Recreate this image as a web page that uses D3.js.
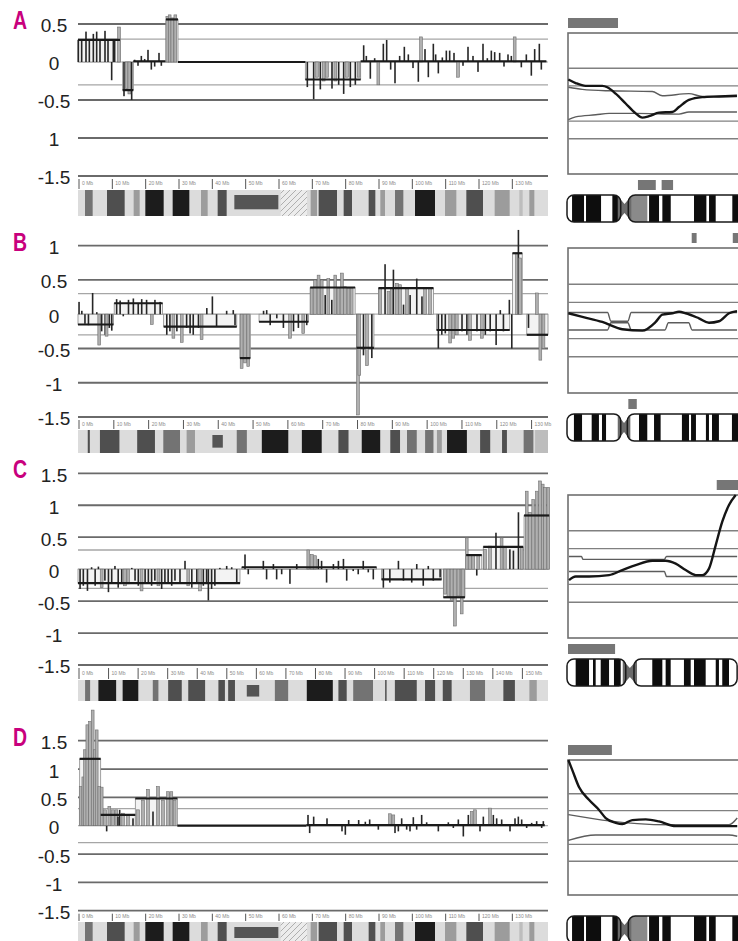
<!DOCTYPE html>
<html lang="en">
<head>
<meta charset="UTF-8">
<title>Array CGH profiles A-D</title>
<script src="https://d3js.org/d3.v7.min.js"></script>
<style>
  body { margin: 0; background: #fff; }
  svg { display: block; background: #fff; }
  .tick-label { font-family: "Liberation Sans", Arial, sans-serif; font-size: 19px; fill: #222; }
  .panel-label { font-family: "Liberation Sans", Arial, sans-serif; font-weight: bold; font-size: 25px; fill: #c8007d; }
  .mb { font-family: "Liberation Sans", Arial, sans-serif; font-size: 5px; fill: #8a8a8a; }
</style>
</head>
<body>
<svg width="738" height="941"></svg>
<script>
// ---- y axis ticks ----
const ticksA = [0.5, 0, -0.5, -1, -1.5];
const tickTextA = ["0.5", "0", "-0.5", "1", "-1.5"];
const ticksB = [1, 0.5, 0, -0.5, -1, -1.5];
const tickTextB = ["1", "0.5", "0", "-0.5", "-1", "-1.5"];
const ticksCD = [1.5, 1, 0.5, 0, -0.5, -1, -1.5];
const tickTextCD = ["1.5", "1", "0.5", "0", "-0.5", "-1", "-1.5"];
const thresholds = [0.3, -0.3];
const rightGrid = [0.5, 0.25, -0.25, -0.5];

// ---- Mb ticks of the band strips ----
const mbTicks9 = [0, 10, 20, 30, 40, 50, 60, 70, 80, 90, 100, 110, 120, 130];
const mbTicks12 = [0, 10, 20, 30, 40, 50, 60, 70, 80, 90, 100, 110, 120, 130];
const mbTicks7 = [0, 10, 20, 30, 40, 50, 60, 70, 80, 90, 100, 110, 120, 130, 140, 150];

// ---- segments [start Mb, end Mb, mean log2 ratio] ----
const segmentsA = [[0, 12.6, 0.29], [13.4, 16.6, -0.37], [16.6, 26.2, 0.01], [26.4, 30, 0.56],
  [30, 68.2, 0], [68.2, 84.8, -0.23], [84.8, 140.5, 0.01]];
const segmentsB = [[0, 10.2, -0.15], [10.4, 24.3, 0.16], [24.6, 45.6, -0.18], [46.5, 49.5, -0.64],
  [52, 66.2, -0.11], [66.7, 79.6, 0.39], [80, 85, -0.49], [86.3, 102.1, 0.38], [103, 124, -0.23],
  [124.8, 127.6, 0.89], [128.9, 135, -0.3]];
const segmentsC = [[0, 54.8, -0.22], [55.4, 101, 0.03], [102.7, 123, -0.16], [123.6, 130.9, -0.44],
  [131.3, 136.6, 0.22], [137.1, 150.6, 0.35], [150.9, 159.4, 0.84]];
const segmentsD = [[0.5, 6.8, 1.18], [6.8, 17.2, 0.19], [17.2, 29.8, 0.48], [29.8, 68.5, 0], [68.5, 140, 0.01]];

// ---- clones [position Mb, log2 ratio, flagged 0/1] ----
const clonesA = [
  [0.1,0.29,0],[1.1,0.3,0],[2.4,0.4,0],[3.4,0.29,0],[4.6,0.37,0],[5.6,0.4,0],[6.6,0.29,0],[8.1,0.41,0],
  [9.0,0.29,0],[10.1,-0.24,0],[10.6,0.28,0],[11.0,0.29,0],[12.3,0.46,1],
  [13.8,-0.45,0],[14.6,-0.35,1],[15.4,-0.42,1],[16.1,-0.5,0],
  [17.0,0.03,0],[18.0,-0.05,0],[19.0,0.08,0],[20.0,0.04,0],[21.0,0.16,0],[22.0,-0.1,0],[23.0,-0.06,0],
  [24.3,0.12,0],[25.0,-0.05,0],
  [26.8,0.6,1],[27.5,0.62,1],[28.3,0.58,1],[29.2,0.62,1],
  [68.8,-0.33,0],[70.7,-0.49,0],[71.7,-0.2,1],[72.7,-0.36,0],[73.7,-0.25,1],[74.7,-0.2,1],[76.2,-0.35,0],
  [77.2,-0.25,1],[78.2,-0.3,0],[79.7,-0.42,0],[80.7,-0.2,1],[81.7,-0.33,0],[83.2,-0.3,0],[84.2,-0.2,1],
  [85.7,0.22,0],[86.5,0.08,0],[87.7,-0.22,0],[89.0,0.05,0],[90.1,-0.3,1],[91.6,0.24,0],[92.6,0.29,0],
  [93.8,-0.1,0],[95.1,-0.28,0],[96.5,0.08,0],[97.9,0.2,0],[99.1,0.1,0],[100.5,-0.08,0],[102.1,-0.26,0],
  [102.9,0.33,1],[104.1,0.17,0],[105.1,-0.2,0],[106.6,0.24,0],[107.3,0.1,0],[108.1,-0.15,0],[109.3,0.06,0],
  [110.5,0.15,0],[111.5,0.15,0],[112.8,0.12,0],[114.0,-0.2,1],[115.5,-0.05,0],[117.0,0.2,0],[118.5,0.08,0],
  [120.0,-0.13,0],[121.5,0.24,0],[122.8,0.05,0],[124.0,0.15,0],[125.0,0.13,0],[126.5,0.12,0],[127.8,-0.06,0],
  [129.0,0.1,0],[130.0,0.08,0],[131.0,0.33,1],[133.0,-0.07,0],[134.5,0.1,0],[136.0,-0.18,0],[137.0,0.17,0],
  [138.4,0.24,0],[139.0,-0.1,0]
];
const clonesB = [
  [0.3,0.18,0],[1.1,0.05,0],[2.0,-0.14,0],[3.0,-0.16,0],[4.2,0.31,0],[5.4,0.03,0],[6.1,-0.45,1],[6.8,-0.25,0],
  [7.8,-0.3,0],[8.2,-0.32,1],[9.0,-0.2,0],[9.7,-0.24,0],
  [11.1,0.22,0],[12.1,0.2,0],[13.0,-0.03,0],[14.5,0.21,0],[15.9,0.23,0],[17.3,0.16,0],[18.3,0.22,0],
  [19.7,0.21,0],[21.2,-0.15,1],[22.1,0.21,0],[23.6,0.18,0],
  [25.5,-0.3,0],[26.4,-0.25,0],[27.4,-0.35,1],[28.4,-0.25,0],[29.8,-0.41,1],[31.2,-0.2,0],[32.2,-0.28,0],
  [33.1,-0.3,0],[34.6,-0.2,0],[35.5,-0.37,1],[37.0,0.09,0],[38.6,0.26,0],[39.8,-0.18,0],[42.7,0.05,0],
  [44.6,0.06,0],[45.1,-0.16,0],
  [47.0,-0.79,1],[48.0,-0.71,1],[48.9,-0.76,1],
  [53.3,0.05,0],[54.2,0.06,0],[55.2,-0.16,0],[57.1,-0.06,0],[59.0,-0.2,0],[60.9,-0.35,1],[61.9,-0.25,0],
  [63.3,-0.2,0],[64.7,-0.28,1],[65.7,-0.16,0],
  [67.1,0.38,1],[68.1,0.5,1],[69.1,0.57,1],[70.0,0.5,1],[71.0,0.28,0],[71.9,0.52,1],[72.9,0.21,0],
  [73.9,0.57,1],[74.8,0.38,1],[75.8,0.6,1],[76.7,0.4,1],[77.7,0.38,1],[78.6,0.38,1],
  [80.4,-1.47,1],[80.8,-0.89,1],[82.0,-0.6,0],[83.0,-0.75,1],[84.4,-0.64,0],
  [86.8,0.38,1],[88.2,0.73,0],[89.2,0.33,1],[90.1,0.38,1],[90.6,0.65,0],[91.6,0.45,1],[92.5,0.43,1],
  [93.5,0.14,0],[94.5,0.38,1],[95.4,0.28,0],[97.3,0.52,0],[98.8,0.26,0],[99.7,0.38,1],[101.1,0.38,1],
  [103.5,-0.5,0],[104.5,-0.3,0],[105.5,-0.28,0],[106.9,-0.42,1],[107.8,-0.35,1],[108.8,-0.3,1],
  [110.3,-0.25,0],[111.7,-0.3,0],[112.6,-0.38,1],[114.6,-0.25,0],[116.0,-0.35,1],[117.0,-0.3,0],
  [118.4,-0.25,0],[120.1,-0.45,0],[121.3,0.06,0],[122.2,-0.25,0],[123.9,0.21,0],
  [124.6,-0.5,0],[126.1,0.89,1],[126.5,1.23,0],[127.0,0.82,1],
  [129.4,-0.2,0],[131.8,0.31,1],[132.8,-0.67,1],[133.7,-0.5,1]
];
const clonesC = [
  [0.7,-0.31,0],[1.8,-0.26,0],[3.2,-0.34,0],[4.6,0.03,0],[5.8,-0.26,0],[6.9,0.04,0],[8.0,-0.29,1],
  [9.1,-0.18,0],[10.3,-0.36,0],[11.4,-0.23,0],[12.5,0.05,0],[13.6,-0.29,0],[14.8,-0.21,0],[15.9,-0.26,1],
  [17.0,-0.23,1],[18.2,0.02,0],[19.3,-0.18,0],[20.4,-0.26,0],[21.5,-0.34,1],[22.7,-0.23,0],[23.8,-0.21,0],
  [24.9,-0.26,0],[26.0,-0.18,0],[27.2,-0.26,1],[28.3,-0.31,0],[29.4,-0.23,0],[30.5,-0.21,0],[31.7,-0.26,0],
  [32.8,-0.18,0],[34.5,-0.23,0],[36.2,0.13,0],[37.3,-0.26,1],[38.5,-0.29,0],[40.2,-0.21,0],[41.3,-0.34,1],
  [42.4,-0.26,0],[43.5,-0.21,0],[44.1,-0.49,0],[45.2,-0.31,0],[46.3,-0.26,0],[48.0,0.02,0],[50.3,0.05,0],
  [52.0,0.03,0],[53.7,-0.21,0],
  [56.5,0.23,0],[57.6,-0.08,0],[62.7,0.13,0],[63.8,-0.16,0],[66.1,0.08,0],[67.2,-0.16,0],[68.9,-0.08,0],
  [71.7,-0.23,0],[74.0,0.08,0],[77.9,0.3,1],[79.1,0.23,1],[80.2,0.21,1],[81.3,0.16,0],[82.4,0.13,0],
  [84.1,-0.21,0],[86.4,0.08,0],[88.1,0.13,0],[89.8,0.16,0],[90.9,-0.18,0],[93.1,-0.03,0],[94.8,-0.08,0],
  [96.5,0.13,0],[98.2,-0.05,0],[99.9,-0.16,0],
  [103.3,-0.29,0],[105.5,-0.21,0],[108.4,0.13,0],[110.1,-0.18,0],[112.9,-0.21,0],[114.6,0.08,0],
  [116.8,-0.26,0],[118.5,0.05,0],[120.2,-0.18,0],[122.5,-0.13,0],
  [124.2,-0.39,1],[125.3,-0.44,1],[126.4,-0.49,1],[127.5,-0.89,1],[128.7,-0.42,1],[129.8,-0.7,1],[130.3,-0.44,1],
  [131.5,0.49,1],[132.6,0.23,1],[133.7,0.23,1],[134.9,-0.1,0],[135.4,0.23,1],
  [137.7,0.31,1],[139.4,0.36,1],[141.4,0.57,0],[143.3,0.49,1],[144.4,0.34,1],[146.1,0.31,0],[147.3,0.29,0],
  [149.0,0.89,0],[150.1,0.34,1],
  [151.8,1.22,1],[152.9,0.89,1],[154.0,1.09,1],[155.2,1.22,1],[156.3,1.38,1],[157.2,1.33,1],[158.0,1.28,1],[159.1,1.28,1]
];
const clonesD = [
  [0.8,0.69,1],[1.6,0.86,1],[2.1,1.34,1],[2.8,1.78,1],[3.6,1.84,1],[4.4,2.04,1],[5.1,1.34,1],[5.6,1.69,1],[6.4,0.69,1],
  [7.1,0.68,1],[8.1,0.28,1],[8.6,-0.1,0],[9.4,0.34,1],[10.5,0.28,1],[11.5,0.28,1],[12.0,0.16,0],[12.5,0.28,0],
  [13.5,0.22,1],[15.0,0.19,1],[16.5,0.13,0],
  [18.0,0.28,1],[19.5,0.45,1],[21.0,0.64,1],[22.5,0.25,0],[24.0,0.69,1],[25.5,0.45,1],[27.0,0.6,1],[28.0,0.6,1],[29.0,0.45,1],
  [69.0,0.19,0],[69.5,-0.13,0],[70.7,0.16,0],[74.7,0.13,0],[79.2,-0.1,0],[80.2,-0.16,0],[81.2,0.1,0],[84.2,0.1,0],
  [86.2,0.07,0],[87.5,0.11,0],[90.1,-0.07,0],[93.6,0.21,1],[94.6,0.19,1],[95.1,-0.13,0],[96.1,-0.1,0],[97.1,0.13,0],
  [98.6,-0.07,0],[99.6,-0.1,0],[100.6,0.15,0],[101.6,-0.07,0],[103.1,0.19,0],[104.6,0.06,0],[108.1,-0.1,0],
  [111.1,0.06,0],[112.6,-0.04,0],[114.1,0.11,0],[115.6,-0.19,0],[117.1,0.19,0],[118.1,0.25,1],[119.1,0.28,1],
  [120.6,-0.1,0],[121.6,0.16,0],[123.6,0.31,1],[124.6,0.19,0],[125.6,0.13,0],[127.1,0.11,0],[129.6,-0.1,0],
  [131.1,0.13,0],[132.1,0.16,0],[133.1,0.11,0],[134.6,-0.04,0],[136.1,0.05,0],[137.6,0.08,0],[139.1,-0.04,0],[139.6,0.08,0]
];

// ---- cytoband strips below the profiles [start Mb, end Mb, stain] ----
const stripChr9 = [[2.1,4.4,"g50"],[8.7,14,"g75"],[16.7,18.5,"g25"],[20.2,25.7,"g100"],[28.4,33.4,"g100"],
  [36.9,38.9,"g25"],[41.9,44.6,"g75"],[46.9,60.1,"acen"],[60.8,68.7,"gvar"],[69.8,71.7,"g25"],[72.2,77.7,"g75"],
  [79.7,82.2,"g75"],[87.2,89.2,"g75"],[90.7,92.1,"g25"],[95.1,97.6,"g50"],[101.1,107.1,"g100"],[110.1,113.5,"g25"],
  [116.5,121.5,"g75"],[125,129.5,"g25"],[132.4,133.4,"g10"],[135.4,136.9,"g25"]];
const stripChr12 = [[2.8,3.4,"g75"],[6.3,11.9,"g75"],[17,22.1,"g75"],[24.5,29.3,"g50"],[31.2,33.6,"g25"],
  [38.6,41.6,"acen"],[45.6,48.5,"g50"],[52.8,60.4,"g100"],[64.3,70,"g100"],[74.8,77.7,"g75"],[81.5,86.8,"g100"],
  [89.7,92.5,"g75"],[94.5,97.3,"g50"],[99.7,102.1,"g50"],[103.1,104.5,"g25"],[106,111.7,"g100"],[115.5,118.4,"g75"],
  [121.8,123.2,"g75"],[128,130.8,"g50"],[131.3,135,"g10"]];
const stripChr7 = [[2.4,4.1,"g50"],[6.9,12.9,"g100"],[15.1,20.4,"g100"],[25.3,27.2,"g50"],[30.5,35.1,"g75"],
  [37.3,43,"g75"],[47.5,49.7,"g75"],[50.8,53.1,"g75"],[57.1,61.3,"acen"],[66.6,71.1,"g50"],[77.4,86.2,"g100"],
  [88.1,90.9,"g75"],[93.1,99.8,"g50"],[103.9,104.4,"g75"],[107.2,114.6,"g75"],[117.4,120.8,"g75"],[123.4,126.4,"g75"],
  [132.6,137.7,"g50"],[143.9,147.8,"g75"],[152.7,155.2,"g25"]];

// ---- ideograms on the right [start Mb, end Mb, stain] and centromeres ----
const ideoChr9 = [[3.8,12.8,"gpos"],[14.3,25.6,"gpos"],[34.1,40.4,"gpos"],[46.1,60.4,"gvar"],[61.7,69.2,"gpos"],
  [71.7,78,"gpos"],[95.5,104.8,"gpos"],[106.8,111.8,"gpos"],[124.3,133,"gpos"]];
const ideoChr12 = [[4.1,8.9,"gpos"],[14.6,18.9,"gpos"],[20.7,23.1,"gpos"],[42.6,47.5,"gpos"],[51.5,55.4,"gpos"],
  [68,72.2,"gpos"],[73.4,76.3,"gpos"],[82.2,84,"gpos"],[85.8,89.9,"gpos"],[97.6,104,"gpos"]];
const ideoChr7 = [[8.1,20.6,"gpos"],[24.3,26.8,"gpos"],[31.5,39.3,"gpos"],[43.9,50.2,"gpos"],[79.7,89.1,"gpos"],
  [92.2,96.9,"gpos"],[109.3,115.6,"gpos"],[118.7,129.6,"gpos"],[139,142,"gpos"],[145.1,151.4,"gpos"]];
const cenChr9 = [40.4, 46.1];
const cenChr12 = [31.8, 35.7];
const cenChr7 = [54.9, 62.6];

// ---- smoothed profiles in the right panels [Mb, value] ----
const smoothA = [[1,0.34],[6.5,0.29],[14,0.25],[26.6,0.25],[30.3,0.23],[36.6,0.14],[44.1,0],[51.6,-0.14],
  [56.6,-0.2],[61.7,-0.18],[69.2,-0.13],[79.2,-0.12],[84.2,-0.05],[91.7,0.05],[101.7,0.09],[114.3,0.1],[127.8,0.11]];
const upperA = [[1,0.23],[11.5,0.2],[31.6,0.18],[64.1,0.17],[71.7,0.11],[91.7,0.14],[101.7,0.1],[127.8,0.1]];
const lowerA = [[1,-0.23],[6.5,-0.19],[21.6,-0.16],[31.6,-0.14],[51.6,-0.14],[84.2,-0.15],[91.7,-0.12],[127.8,-0.12]];
const smoothB = [[0.8,0.1],[9.1,0.05],[20.9,-0.02],[32.7,-0.12],[44.6,-0.14],[52.5,-0.02],[56.4,0.08],[62.3,0.1],
  [66.3,0.12],[70.2,0.1],[78.1,0.03],[84,-0.03],[89.9,-0.01],[95.9,0.1],[100.6,0.13]];
const upperB = [[0.8,0.11],[24,0.11],[26,-0.01],[36,-0.01],[38,0.11],[100.6,0.11]];
const lowerB = [[0.8,-0.13],[24,-0.13],[26,-0.03],[36,-0.03],[38,-0.13],[58,-0.13],[60,-0.03],[72,-0.03],[74,-0.13],[100.6,-0.13]];
const smoothC = [[1.9,-0.19],[8.1,-0.14],[20.6,-0.14],[39.3,-0.12],[51.7,-0.05],[64.2,0.02],[79.8,0.08],[92.2,0.08],
  [101.6,0.04],[110.9,-0.05],[120.3,-0.12],[126.5,-0.12],[132.7,-0.03],[139,0.3],[145.2,0.63],[151.4,0.86],[157.7,1.0]];
const upperC = [[1.9,0.14],[13.5,0.14],[15,0.1],[91,0.1],[93,0.14],[159,0.14]];
const lowerC = [[1.9,-0.07],[91,-0.07],[93,-0.14],[159,-0.14]];
const smoothD = [[1,1.0],[4,0.85],[9,0.6],[16.5,0.41],[24.1,0.26],[29.1,0.14],[36.6,0.07],[41.6,0.05],[49.1,0.11],
  [59.2,0.12],[69.2,0.09],[81.7,0.02],[101.7,0.02],[128,0.02]];
const upperD = [[1,0.19],[26.6,0.11],[76.7,0.04],[121.8,0.04],[128,0.14]];
const lowerD = [[1,-0.19],[21.6,-0.11],[121.8,-0.11],[128,-0.13]];

// ---- aberration marks next to the right panels [start Mb, end Mb, side] ----
const marksA = [[0,37.6,"top"],[52.6,66,"bottom"],[70.4,79,"bottom"]];
const marksB = [[73.2,76.1,"top"],[97.5,101,"top"],[35.7,40.7,"bottom"]];
const marksC = [[139,160,"top"],[0,44,"bottom"]];
const marksD = [[0,33,"top"]];

// ---------------------------------------------------------------
const svg = d3.select("svg");
const X0 = 78, X1 = 548;          // profile area
const RX0 = 567;                  // right panels start

const defs = svg.append("defs");
const hatch = defs.append("pattern").attr("id", "hatch")
  .attr("patternUnits", "userSpaceOnUse").attr("width", 6).attr("height", 6);
hatch.append("rect").attr("width", 6).attr("height", 6).attr("fill", "#ececec");
hatch.append("path").attr("d", "M0,6 L6,0 M-1,1 L1,-1 M5,7 L7,5")
  .attr("stroke", "#a8a8a8").attr("stroke-width", 0.9);

const stainFill = d3.scaleOrdinal()
  .domain(["g100", "g75", "g50", "g25", "g10", "acen", "gvar"])
  .range(["#1c1c1c", "#4f4f4f", "#737373", "#9c9c9c", "#bdbdbd", "#555555", "url(#hatch)"]);
const cloneFill = d3.scaleOrdinal().domain([0, 1]).range(["#262626", "#b0b0b0"]);

const panels = [
  { label: "A", len: 141, yDomain: [-1.5, 0.5], yRange: [176, 24], ticks: ticksA, tickText: tickTextA,
    segs: segmentsA, clones: clonesA, strip: stripChr9, mb: mbTicks9, band: [190, 216],
    r: { len: 141, k: 1.33, box: [33, 174], smooth: smoothA, upper: upperA, lower: lowerA,
         marks: marksA, ideo: ideoChr9, cen: cenChr9 } },
  { label: "B", len: 135, yDomain: [-1.5, 1], yRange: [417, 245.7], ticks: ticksB, tickText: tickTextB,
    segs: segmentsB, clones: clonesB, strip: stripChr12, mb: mbTicks12, band: [430, 453],
    r: { len: 133, k: 1.69, box: [248, 393], smooth: smoothB, upper: upperB, lower: lowerB,
         marks: marksB, ideo: ideoChr12, cen: cenChr12 } },
  { label: "C", len: 159, yDomain: [-1.5, 1.5], yRange: [665, 473.3], ticks: ticksCD, tickText: tickTextCD,
    segs: segmentsC, clones: clonesC, strip: stripChr7, mb: mbTicks7, band: [680, 701],
    r: { len: 159, k: 1.07, box: [495, 638], smooth: smoothC, upper: upperC, lower: lowerC,
         marks: marksC, ideo: ideoChr7, cen: cenChr7 } },
  { label: "D", len: 141, yDomain: [-1.5, 1.5], yRange: [910.7, 740.7], ticks: ticksCD, tickText: tickTextCD,
    segs: segmentsD, clones: clonesD, strip: stripChr9, mb: mbTicks9, band: [922, 942],
    r: { len: 141, k: 1.33, box: [760, 895], smooth: smoothD, upper: upperD, lower: lowerD,
         marks: marksD, ideo: ideoChr9, cen: cenChr9 } }
];

panels.forEach((p, pi) => {
  const g = svg.append("g");
  const x = d3.scaleLinear().domain([0, p.len]).range([X0, X1]);
  const y = d3.scaleLinear().domain(p.yDomain).range(p.yRange);

  // grid
  g.selectAll(".thr").data(thresholds).join("line")
    .attr("x1", X0).attr("x2", X1).attr("y1", d => y(d)).attr("y2", d => y(d))
    .attr("stroke", "#a6a6a6").attr("stroke-width", 1.3);
  g.selectAll(".grid").data(p.ticks).join("line")
    .attr("x1", X0).attr("x2", X1).attr("y1", d => y(d)).attr("y2", d => y(d))
    .attr("stroke", d => d === 0 ? "#b0b0b0" : "#6a6a6a")
    .attr("stroke-width", d => d === 0 ? 1.2 : 1.8);

  // tick labels
  const axis = d3.axisLeft(y).tickValues(p.ticks).tickSize(0).tickPadding(0)
    .tickFormat((d, i) => p.tickText[i]);
  const ga = g.append("g").attr("transform", "translate(54,0)").call(axis);
  ga.select(".domain").remove();
  ga.selectAll("text").attr("class", "tick-label").attr("text-anchor", "middle")
    .attr("x", 0).attr("dy", "0.42em");

  // panel letter
  g.append("text").attr("class", "panel-label")
    .attr("transform", `translate(13,${p.yRange[1] + 5}) scale(0.78,1)`).text(p.label);

  // segment boxes (between 0 and the mean)
  g.selectAll(".segbox").data(p.segs.filter(d => d[2] !== 0)).join("rect")
    .attr("x", d => x(d[0])).attr("width", d => x(d[1]) - x(d[0]))
    .attr("y", d => Math.min(y(0), y(d[2])))
    .attr("height", d => Math.abs(y(d[2]) - y(0)))
    .attr("fill", "#f3f3f3").attr("stroke", "#8c8c8c").attr("stroke-width", 0.8);

  // clones
  g.selectAll(".clone").data(p.clones).join("rect")
    .attr("x", d => x(d[0]) - (d[2] ? 1.4 : 0.8))
    .attr("width", d => d[2] ? 2.8 : 1.6)
    .attr("y", d => Math.min(y(0), y(d[1])))
    .attr("height", d => Math.abs(y(d[1]) - y(0)))
    .attr("fill", d => cloneFill(d[2]))
    .attr("stroke", d => d[2] ? "#6e6e6e" : "none").attr("stroke-width", 0.6);

  // segment means
  g.selectAll(".seg").data(p.segs).join("line")
    .attr("x1", d => x(d[0])).attr("x2", d => x(d[1]))
    .attr("y1", d => y(d[2])).attr("y2", d => y(d[2]))
    .attr("stroke", "#1a1a1a").attr("stroke-width", 2.2);

  // band strip
  const yb = y(-1.5);
  g.append("rect").attr("x", X0).attr("y", p.band[0]).attr("width", X1 - X0)
    .attr("height", p.band[1] - p.band[0]).attr("fill", "#dcdcdc");
  g.selectAll(".band").data(p.strip).join("rect")
    .attr("x", d => x(d[0])).attr("width", d => x(d[1]) - x(d[0]))
    .attr("y", d => d[2] === "acen" ? p.band[0] + 5 : p.band[0])
    .attr("height", d => d[2] === "acen" ? (p.band[1] - p.band[0]) * 0.55 : p.band[1] - p.band[0])
    .attr("fill", d => stainFill(d[2]));
  g.selectAll(".mbt").data(p.mb).join("line")
    .attr("x1", d => x(d) + 1).attr("x2", d => x(d) + 1)
    .attr("y1", yb + 3).attr("y2", p.band[0] - 1)
    .attr("stroke", "#555").attr("stroke-width", 1);
  g.selectAll(".mbl").data(p.mb).join("text").attr("class", "mb")
    .attr("x", d => x(d) + 4).attr("y", (yb + p.band[0]) / 2 + 2)
    .text(d => `${d} Mb`);

  // ---- right panel ----
  const r = p.r;
  const rx = d3.scaleLinear().domain([0, r.len]).range([RX0, RX0 + r.len * r.k]);
  const ry = d3.scaleLinear().domain([-1, 1]).range([r.box[1], r.box[0]]);
  const gr = svg.append("g");
  gr.append("rect").attr("x", RX0 + 1).attr("y", r.box[0]).attr("width", 200)
    .attr("height", r.box[1] - r.box[0]).attr("fill", "none")
    .attr("stroke", "#707070").attr("stroke-width", 1.6);
  gr.selectAll(".rg").data(rightGrid).join("line")
    .attr("x1", RX0 + 1).attr("x2", 740).attr("y1", d => ry(d)).attr("y2", d => ry(d))
    .attr("stroke", "#808080").attr("stroke-width", 1.3);

  const line = d3.line().x(d => rx(d[0])).y(d => ry(d[1])).curve(d3.curveMonotoneX);
  [r.upper, r.lower].forEach(s => gr.append("path").attr("d", line(s))
    .attr("fill", "none").attr("stroke", "#5c5c5c").attr("stroke-width", 1.4));
  gr.append("path").attr("d", line(r.smooth)).attr("fill", "none")
    .attr("stroke", "#151515").attr("stroke-width", 2.4);

  const ideoTop = r.box[1] + 21, ideoH = 27;
  gr.selectAll(".mark").data(r.marks).join("rect")
    .attr("x", d => rx(d[0]) + 1).attr("width", d => rx(d[1]) - rx(d[0]))
    .attr("y", d => d[2] === "top" ? r.box[0] - 15 : r.box[1] + 6)
    .attr("height", 10).attr("fill", "#767676");

  // ideogram
  const pA = [rx(0), rx(r.cen[0])], qA = [rx(r.cen[1]), rx(r.len)];
  const clipId = `ideo-clip-${pi}`;
  const clip = defs.append("clipPath").attr("id", clipId);
  [pA, qA].forEach(a => clip.append("rect").attr("x", a[0]).attr("y", ideoTop)
    .attr("width", a[1] - a[0]).attr("height", ideoH).attr("rx", 7));
  const gi = gr.append("g");
  gi.append("g").attr("clip-path", `url(#${clipId})`).call(c => {
    c.append("rect").attr("x", pA[0]).attr("y", ideoTop).attr("width", qA[1] - pA[0])
      .attr("height", ideoH).attr("fill", "#fff");
    c.selectAll("rect.b").data(r.ideo).join("rect").attr("class", "b")
      .attr("x", d => rx(d[0])).attr("width", d => rx(d[1]) - rx(d[0]))
      .attr("y", ideoTop).attr("height", ideoH)
      .attr("fill", d => d[2] === "gvar" ? "#8a8a8a" : "#0d0d0d");
  });
  const mid = (pA[1] + qA[0]) / 2;
  gi.append("path")
    .attr("d", `M${pA[1] - 3},${ideoTop + 1} L${mid},${ideoTop + 9} L${qA[0] + 3},${ideoTop + 1}
                L${qA[0] + 3},${ideoTop + ideoH - 1} L${mid},${ideoTop + ideoH - 9} L${pA[1] - 3},${ideoTop + ideoH - 1} Z`)
    .attr("fill", "#6a6a6a");
  [pA, qA].forEach(a => gi.append("rect").attr("x", a[0]).attr("y", ideoTop)
    .attr("width", a[1] - a[0]).attr("height", ideoH).attr("rx", 7)
    .attr("fill", "none").attr("stroke", "#1a1a1a").attr("stroke-width", 1.5));
});
</script>
</body>
</html>
